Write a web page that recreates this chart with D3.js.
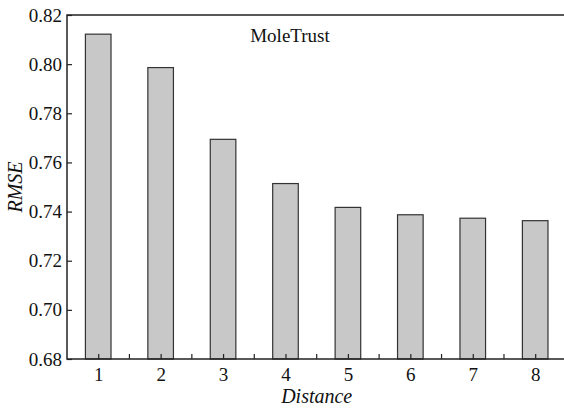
<!DOCTYPE html>
<html><head><meta charset="utf-8">
<script src="https://cdn.jsdelivr.net/npm/d3@7"></script>
<style>body{margin:0;background:#fff}svg{display:block}svg text{font-family:"Liberation Serif","Times New Roman","DejaVu Serif",serif}</style>
</head><body>
<script>
const categories = [1,2,3,4,5,6,7,8];
const rmse = [0.8122, 0.7986, 0.7694, 0.7514, 0.7417, 0.7387, 0.7373, 0.7363];
const yTicks = [0.68,0.70,0.72,0.74,0.76,0.78,0.80,0.82];
const title = "MoleTrust";

const W=564,H=408;
const L=67,T=15,B=359,R=566.4;
const svg=d3.select("body").append("svg").attr("width",W).attr("height",H);
const x=d3.scaleLinear().domain([0.5,8.5]).range([L,R]);
const y=d3.scaleLinear().domain([0.68,0.82]).range([B,T]);
const step=x(2)-x(1), bw=step*0.41;

svg.append("g").selectAll("rect").data(categories).join("rect")
  .attr("x",d=>x(d)-bw/2).attr("width",bw)
  .attr("y",(d,i)=>y(rmse[i])).attr("height",(d,i)=>B-y(rmse[i]))
  .attr("fill","#c8c8c8").attr("stroke","#333").attr("stroke-width",1.2);

svg.append("rect").attr("x",L).attr("y",T).attr("width",R-L).attr("height",B-T)
  .attr("fill","none").attr("stroke","#222").attr("stroke-width",1.5);

const ya=d3.axisLeft(y).tickValues(yTicks).tickFormat(d3.format(".2f")).tickSizeInner(-5).tickSizeOuter(0).tickPadding(5);
const gy=svg.append("g").attr("transform",`translate(${L},0)`).call(ya);
gy.attr("font-family",null).attr("font-size",null);
gy.select(".domain").remove();
gy.selectAll("line").attr("stroke","#222").attr("stroke-width",1.2);
gy.selectAll("text").style("font-size","19px").attr("fill","#111");

const xa=d3.axisBottom(x).tickValues(categories).tickFormat(d3.format("d")).tickSizeInner(-5).tickSizeOuter(0).tickPadding(9);
const gx=svg.append("g").attr("transform",`translate(0,${B})`).call(xa);
gx.attr("font-family",null).attr("font-size",null);
gx.select(".domain").remove();
gx.selectAll("line").attr("stroke","#222").attr("stroke-width",1.2);
gx.selectAll("text").style("font-size","19px").attr("fill","#111");
const minor=categories.map(d=>d+0.5);
svg.append("g").selectAll("line").data(minor).join("line")
  .attr("x1",d=>x(d)).attr("x2",d=>x(d)).attr("y1",B).attr("y2",B-5)
  .attr("stroke","#222").attr("stroke-width",1.2);

svg.append("text").attr("x",x(4.5)).attr("y",403).attr("text-anchor","middle")
  .style("font-style","italic").style("font-size","20px").attr("fill","#111").text("Distance");
svg.append("text").attr("transform",`translate(22,${(T+B)/2}) rotate(-90)`).attr("text-anchor","middle")
  .style("font-style","italic").style("font-size","20px").attr("fill","#111").text("RMSE");
svg.append("text").attr("x",290).attr("y",42).attr("text-anchor","middle")
  .style("font-size","19px").attr("fill","#111").text(title);
</script>
</body></html>
